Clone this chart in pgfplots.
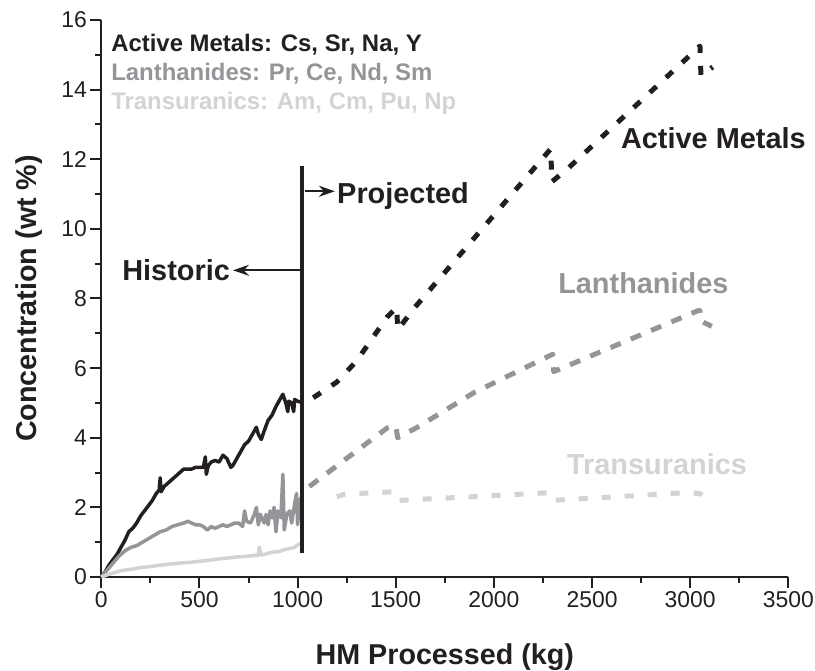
\documentclass[border=0pt]{standalone}
\usepackage{pgfplots}
\pgfplotsset{compat=1.18}
\usepackage{fontspec}
\setmainfont{Liberation Sans}
\usetikzlibrary{arrows.meta}
\definecolor{cam}{HTML}{231F20}
\definecolor{cln}{HTML}{939598}
\definecolor{ctu}{HTML}{D1D3D4}
\begin{document}
\begin{tikzpicture}
\begin{axis}[
  scale only axis, width=687bp, height=557bp,
  xmin=0, xmax=3500, ymin=0, ymax=16,
  axis lines*=left,
  axis line style={line width=2bp, cam},
  xtick={0,500,...,3500}, ytick={0,2,...,16},
  minor x tick num=1, minor y tick num=1,
  tick align=outside,
  major tick length=11bp, minor tick length=6bp,
  every tick/.style={line width=2bp, cam},
  ticklabel style={font=\fontsize{23}{27}\selectfont, text=cam},
  /pgf/number format/assume math mode=true,
  /pgf/number format/set thousands separator={},
  scaled ticks=false,
  clip=false,
  line join=round,
]
% historic (solid)
\addplot[cam, line width=3.5bp] coordinates {
(0,0) (20,0.15) (40,0.35) (60,0.5) (80,0.65) (100,0.85) (120,1.05) (140,1.3) (160,1.4) (180,1.55)
(200,1.75) (220,1.9) (240,2.05) (260,2.2) (280,2.4) (295,2.5) (300,2.85) (305,2.45) (320,2.6) (340,2.7)
(360,2.8) (380,2.9) (400,3.0) (420,3.1) (440,3.1) (460,3.1) (480,3.15) (500,3.15) (520,3.15) (530,3.45)
(535,2.95) (545,3.2) (560,3.3) (580,3.35) (600,3.3) (620,3.5) (640,3.4) (660,3.15) (670,3.2) (690,3.4)
(710,3.6) (730,3.8) (750,3.9) (770,4.1) (790,4.3) (800,4.1) (815,3.95) (830,4.2) (850,4.5) (870,4.65)
(890,4.9) (910,5.1) (925,5.25) (940,5.0) (950,4.75) (955,5.05) (970,5.0) (980,4.75) (985,5.1) (1000,5.05) (1030,5.0)
};
\addplot[cln, line width=3.5bp] coordinates {
(0,0) (30,0.2) (60,0.4) (90,0.6) (120,0.75) (150,0.85) (180,0.9) (210,1.0) (240,1.1) (270,1.2)
(300,1.3) (330,1.35) (360,1.45) (390,1.5) (420,1.55) (440,1.6) (460,1.55) (480,1.5) (500,1.5) (520,1.45)
(540,1.35) (560,1.45) (580,1.4) (600,1.45) (620,1.5) (640,1.45) (660,1.5) (680,1.55) (700,1.55) (720,1.45)
(730,1.9) (740,1.6) (760,1.55) (780,1.8) (790,2.0) (800,1.5) (810,1.8) (830,1.55) (840,1.8) (850,1.5)
(860,1.9) (870,1.7) (880,2.0) (890,1.3) (900,1.9) (915,1.7) (925,2.95) (932,1.35) (945,1.8) (960,1.9)
(970,1.55) (985,2.1) (995,2.4) (1000,1.5) (1010,2.2) (1020,2.3)
};
\addplot[ctu, line width=3.5bp] coordinates {
(0,0) (50,0.1) (100,0.18) (150,0.22) (200,0.27) (250,0.3) (300,0.34) (350,0.37) (400,0.4) (450,0.42)
(500,0.45) (550,0.48) (600,0.52) (650,0.55) (700,0.58) (750,0.6) (780,0.62) (800,0.62) (805,0.86) (815,0.63)
(850,0.68) (880,0.72) (900,0.72) (930,0.78) (960,0.82) (980,0.84) (1000,0.92) (1020,0.98)
};
% projected (dashed)
\addplot[cam, line width=5bp, dash pattern=on 9bp off 13bp] coordinates {
(1080,5.15) (1200,5.6) (1300,6.2) (1455,7.46) (1505,7.75) (1510,7.1) (1598,7.75) (2290,12.3) (2295,11.35)
(2380,11.75) (3050,15.25) (3055,14.4) (3115,14.65)
};
\addplot[cln, line width=5bp, dash pattern=on 11bp off 11bp] coordinates {
(1060,2.6) (1456,4.28) (1500,4.35) (1510,4.0) (1610,4.3) (1900,5.3) (2300,6.4) (2305,5.9) (3040,7.65)
(3050,7.65) (3055,7.35) (3110,7.2)
};
\addplot[ctu, line width=5bp, dash pattern=on 9bp off 14bp] coordinates {
(1200,2.3) (1240,2.38) (1500,2.45) (1520,2.2) (2280,2.42) (2300,2.2) (2970,2.42) (3050,2.4) (3090,2.2)
};
% divider and annotations
\draw[cam, line width=4bp] (axis cs:1021,0.69) -- (axis cs:1021,11.8);
\draw[cam, line width=2bp, -{Stealth[length=16bp,width=11bp]}] (axis cs:1021,8.81) -- (axis cs:671,8.81);
\draw[cam, line width=2bp, -{Stealth[length=16bp,width=11bp]}] (axis cs:1038,11.08) -- (axis cs:1190,11.08);
\node[anchor=base east, inner sep=0pt, text=cam, font=\fontsize{29}{33}\selectfont\bfseries] at (axis cs:656,8.52) {Historic};
\node[anchor=base west, inner sep=0pt, text=cam, font=\fontsize{29}{33}\selectfont\bfseries] at (axis cs:1201,10.73) {Projected};
\node[anchor=base west, inner sep=0pt, text=cam, font=\fontsize{29}{33}\selectfont\bfseries] at (axis cs:2647,12.31) {Active Metals};
\node[anchor=base west, inner sep=0pt, text=cln, font=\fontsize{29}{33}\selectfont\bfseries] at (axis cs:2327,8.15) {Lanthanides};
\node[anchor=base west, inner sep=0pt, text=ctu, font=\fontsize{29}{33}\selectfont\bfseries] at (axis cs:2372,2.93) {Transuranics};
% legend text
\node[anchor=base west, inner sep=0pt, text=cam, font=\fontsize{24}{28}\selectfont\bfseries] at (axis cs:50,15.09) {Active Metals: Cs, Sr, Na, Y};
\node[anchor=base west, inner sep=0pt, text=cln, font=\fontsize{24}{28}\selectfont\bfseries] at (axis cs:50,14.26) {Lanthanides: Pr, Ce, Nd, Sm};
\node[anchor=base west, inner sep=0pt, text=ctu, font=\fontsize{24}{28}\selectfont\bfseries] at (axis cs:50,13.43) {Transuranics: Am, Cm, Pu, Np};
% axis labels
\node[anchor=base, inner sep=0pt, text=cam, font=\fontsize{28.8}{33}\selectfont\bfseries] at (axis description cs:0.5,-0.157) {HM Processed (kg)};
\node[anchor=base, rotate=90, inner sep=0pt, text=cam, font=\fontsize{28.8}{33}\selectfont\bfseries] at (axis description cs:-0.0946,0.5) {Concentration (wt \%)};
\end{axis}
\pgfresetboundingbox
\useasboundingbox (-101.3bp,-94bp) rectangle (713.7bp,577bp);
\end{tikzpicture}
\end{document}
